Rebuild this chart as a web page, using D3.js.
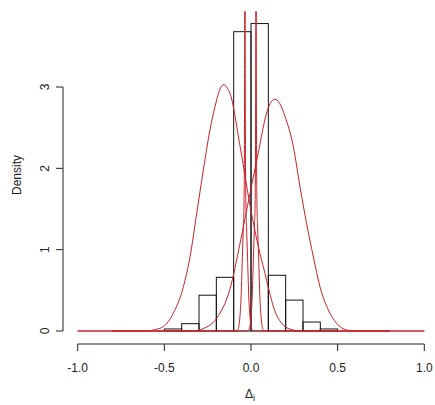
<!DOCTYPE html>
<html>
<head>
<meta charset="utf-8">
<script src="https://cdn.jsdelivr.net/npm/d3@7"></script>
<style>
  html, body { margin: 0; padding: 0; background: #ffffff; }
  svg { display: block; font-family: "Liberation Sans", Arial, sans-serif; }
</style>
</head>
<body>
<svg id="chart" width="435" height="405"></svg>
<script>
// histogram bins (density)
const binStart = [-1.0, -0.5, -0.4, -0.3, -0.2, -0.1, 0.0, 0.1, 0.2, 0.3, 0.4, 0.8];
const binEnd   = [-0.8, -0.4, -0.3, -0.2, -0.1, 0.0, 0.1, 0.2, 0.3, 0.4, 0.5, 1.0];
const binDensity = [0, 0.025, 0.09, 0.44, 0.66, 3.68, 3.78, 0.685, 0.38, 0.11, 0.025, 0];

// density curves
const wideLeftX = [-1.0, -0.62, -0.58, -0.55, -0.506, -0.448, -0.39, -0.352, -0.313, -0.275, -0.237, -0.198, -0.18, -0.156, -0.135, -0.121, -0.063, -0.006, 0.052, 0.071, 0.11, 0.129, 0.186, 0.23, 0.264, 0.30, 1.0];
const wideLeftY = [0, 0, 0.005, 0.02, 0.053, 0.22, 0.545, 0.91, 1.45, 1.98, 2.47, 2.84, 2.97, 3.03, 2.98, 2.92, 2.27, 1.55, 0.95, 0.79, 0.45, 0.30, 0.074, 0.02, 0.005, 0, 0];

const wideRightX = [-1.0, -0.35, -0.30, -0.275, -0.198, -0.121, -0.063, -0.006, 0.042, 0.09, 0.112, 0.138, 0.165, 0.196, 0.244, 0.283, 0.321, 0.36, 0.398, 0.446, 0.494, 0.552, 0.61, 1.0];
const wideRightY = [0, 0, 0.01, 0.03, 0.156, 0.52, 1.08, 1.69, 2.19, 2.68, 2.80, 2.85, 2.80, 2.64, 2.27, 1.77, 1.32, 0.91, 0.545, 0.26, 0.095, 0.012, 0, 0];

const spikeLeftX = [-0.8, -0.09, -0.075, -0.065, -0.058, -0.05, -0.044, -0.040, -0.037, -0.0355, -0.035, -0.0345, -0.033, -0.030, -0.026, -0.020, -0.012, -0.005, 0.005, 0.015, 0.8];
const spikeLeftY = [0, 0, 0.02, 0.15, 0.38, 0.9, 1.3, 1.6, 3, 6, 12, 6, 3, 1.6, 1.3, 0.9, 0.38, 0.15, 0.02, 0, 0];

const spikeRightX = [-0.8, -0.021, -0.011, -0.001, 0.006, 0.014, 0.020, 0.024, 0.027, 0.0285, 0.029, 0.0295, 0.031, 0.034, 0.038, 0.044, 0.052, 0.059, 0.069, 0.079, 0.09, 0.8];
const spikeRightY = [0, 0, 0.02, 0.15, 0.38, 0.9, 1.3, 1.6, 3, 6, 12, 6, 3, 1.6, 1.3, 0.9, 0.38, 0.15, 0.02, 0, 0, 0];

const xTicks = [-1.0, -0.5, 0.0, 0.5, 1.0];
const yTicks = [0, 1, 2, 3];

const svg = d3.select("#chart");

const x = d3.scaleLinear().domain([-1, 1]).range([77.7, 424.3]);
const y = d3.scaleLinear().domain([0, 3]).range([331, 87]);

// plot region (R extends ranges by 4%)
const px0 = x(-1.08), px1 = x(1.08);
const py0 = y(3.78 * 1.04), py1 = y(-3.78 * 0.04);

svg.append("clipPath")
    .attr("id", "plotclip")
    .append("rect")
    .attr("x", px0)
    .attr("y", py0)
    .attr("width", px1 - px0)
    .attr("height", py1 - py0);

const plot = svg.append("g").attr("clip-path", "url(#plotclip)");

// histogram
const bins = binStart.map((s, i) => ({ x0: s, x1: binEnd[i], d: binDensity[i] }));

plot.selectAll("rect.bar")
    .data(bins)
    .enter()
    .append("rect")
    .attr("class", "bar")
    .attr("x", d => x(d.x0))
    .attr("y", d => y(d.d))
    .attr("width", d => x(d.x1) - x(d.x0))
    .attr("height", d => y(0) - y(d.d))
    .attr("fill", "none")
    .attr("stroke", "#111")
    .attr("stroke-width", 1);

// density curves
const curves = [
    [wideLeftX, wideLeftY],
    [wideRightX, wideRightY],
    [spikeLeftX, spikeLeftY],
    [spikeRightX, spikeRightY]
];

const line = d3.line()
    .x(d => x(d[0]))
    .y(d => y(d[1]))
    .curve(d3.curveMonotoneX);

curves.forEach(c => {
    const pts = c[0].map((v, i) => [v, c[1][i]]);
    plot.append("path")
        .attr("d", line(pts))
        .attr("fill", "none")
        .attr("stroke", "#c8202a")
        .attr("stroke-width", 1);
});

// axes
const xAxis = svg.append("g").attr("transform", `translate(0,${344})`);
xAxis.append("line")
    .attr("x1", x(-1)).attr("x2", x(1))
    .attr("y1", 0).attr("y2", 0)
    .attr("stroke", "#222");
xAxis.selectAll("line.tick")
    .data(xTicks)
    .enter()
    .append("line")
    .attr("class", "tick")
    .attr("x1", d => x(d)).attr("x2", d => x(d))
    .attr("y1", 0).attr("y2", 7)
    .attr("stroke", "#222");
xAxis.selectAll("text")
    .data(xTicks)
    .enter()
    .append("text")
    .attr("x", d => x(d))
    .attr("y", 28)
    .attr("text-anchor", "middle")
    .attr("font-size", 12)
    .attr("fill", "#222")
    .text(d => d3.format(".1f")(d).replace("−", "-"));

const yAxis = svg.append("g").attr("transform", `translate(${63},0)`);
yAxis.append("line")
    .attr("x1", 0).attr("x2", 0)
    .attr("y1", y(0)).attr("y2", y(3))
    .attr("stroke", "#222");
yAxis.selectAll("line.tick")
    .data(yTicks)
    .enter()
    .append("line")
    .attr("class", "tick")
    .attr("x1", 0).attr("x2", -7)
    .attr("y1", d => y(d)).attr("y2", d => y(d))
    .attr("stroke", "#222");
yAxis.selectAll("text")
    .data(yTicks)
    .enter()
    .append("text")
    .attr("transform", d => `translate(-14,${y(d)}) rotate(-90)`)
    .attr("text-anchor", "middle")
    .attr("font-size", 12)
    .attr("fill", "#222")
    .text(d => d);

// axis titles
svg.append("text")
    .attr("transform", `translate(21,${175}) rotate(-90)`)
    .attr("text-anchor", "middle")
    .attr("font-size", 12)
    .attr("fill", "#222")
    .text("Density");

const xt = svg.append("text")
    .attr("x", 250)
    .attr("y", 398)
    .attr("text-anchor", "middle")
    .attr("font-size", 12)
    .attr("fill", "#222");
xt.append("tspan").text("Δ");
xt.append("tspan").attr("font-size", 9).attr("dy", 3).text("i");
</script>
</body>
</html>
